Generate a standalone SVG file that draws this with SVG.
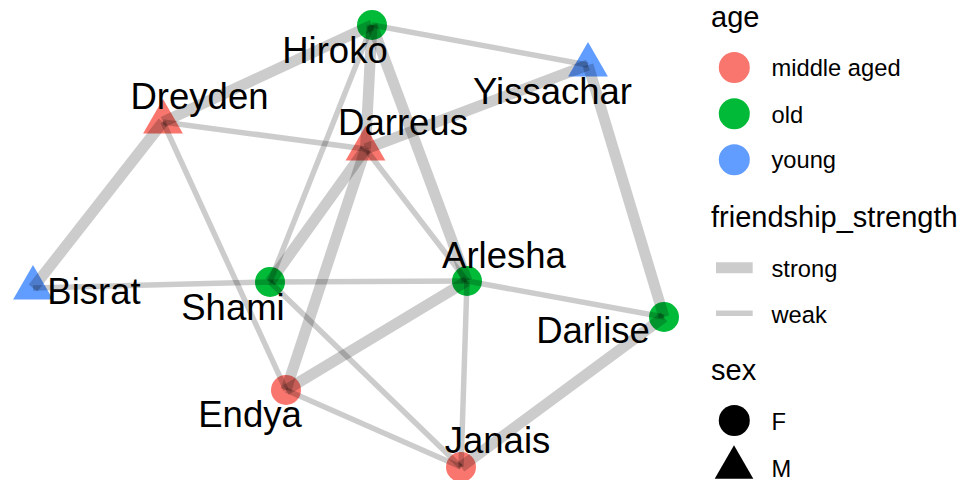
<svg xmlns="http://www.w3.org/2000/svg" xmlns:xlink="http://www.w3.org/1999/xlink" width="963" height="480" viewBox="0 0 963 480">
  <style>
    .lbl { font-family: "Liberation Sans", Arial, sans-serif; font-size: 36.5px; fill: #000; text-anchor: middle; }
    .ltitle { font-family: "Liberation Sans", Arial, sans-serif; font-size: 29px; fill: #000; }
    .ltext { font-family: "Liberation Sans", Arial, sans-serif; font-size: 23.7px; fill: #000; }
    .mid { fill: #F8766D; }
    .old { fill: #00BA38; }
    .young { fill: #619CFF; }
    .edge { stroke: #000; stroke-opacity: 0.2; fill: none; }
    .strong { stroke-width: 11; }
    .weak { stroke-width: 5.5; }
  </style>
  <defs>
    <path id="tri" d="M0,-23 L19.9,11.5 L-19.9,11.5 Z"/>
  </defs>
  <rect width="963" height="480" fill="#fff"/>

  <!-- nodes -->
  <g id="node-hiroko">
    <circle class="old" cx="372" cy="25" r="15"/>
    <text class="lbl" x="335" y="63">Hiroko</text>
  </g>
  <g id="node-dreyden">
    <use xlink:href="#tri" href="#tri" class="mid" transform="translate(163,122)"/>
    <text class="lbl" x="199.5" y="108.5">Dreyden</text>
  </g>
  <g id="node-darreus">
    <use xlink:href="#tri" href="#tri" class="mid" transform="translate(365.5,149)"/>
    <text class="lbl" x="403" y="135">Darreus</text>
  </g>
  <g id="node-yissachar">
    <use xlink:href="#tri" href="#tri" class="young" transform="translate(588,65)"/>
    <text class="lbl" x="552.5" y="103.5">Yissachar</text>
  </g>
  <g id="node-bisrat">
    <use xlink:href="#tri" href="#tri" class="young" transform="translate(33,288)"/>
    <text class="lbl" x="94" y="303.5">Bisrat</text>
  </g>
  <g id="node-shami">
    <circle class="old" cx="270" cy="282" r="15"/>
    <text class="lbl" x="233" y="320">Shami</text>
  </g>
  <g id="node-arlesha">
    <circle class="old" cx="467" cy="281" r="15"/>
    <text class="lbl" x="504" y="268">Arlesha</text>
  </g>
  <g id="node-darlise">
    <circle class="old" cx="664" cy="317" r="15"/>
    <text class="lbl" x="593" y="342.5">Darlise</text>
  </g>
  <g id="node-endya">
    <circle class="mid" cx="286" cy="390" r="15"/>
    <text class="lbl" x="250" y="427">Endya</text>
  </g>
  <g id="node-janais">
    <circle class="mid" cx="461" cy="467" r="15"/>
    <text class="lbl" x="497.5" y="453">Janais</text>
  </g>

  <!-- friendships, drawn over the points so they darken them -->
  <g id="edges" class="edge">
    <line class="strong" x1="372" y1="25" x2="163" y2="122"/>
    <line class="strong" x1="372" y1="25" x2="365.5" y2="149"/>
    <line class="strong" x1="372" y1="25" x2="467" y2="281"/>
    <line class="strong" x1="365.5" y1="149" x2="588" y2="65"/>
    <line class="strong" x1="163" y1="122" x2="33" y2="288"/>
    <line class="strong" x1="365.5" y1="149" x2="270" y2="282"/>
    <line class="strong" x1="365.5" y1="149" x2="286" y2="390"/>
    <line class="strong" x1="467" y1="281" x2="286" y2="390"/>
    <line class="strong" x1="588" y1="65" x2="664" y2="317"/>
    <line class="strong" x1="664" y1="317" x2="461" y2="467"/>
    <line class="weak" x1="372" y1="25" x2="588" y2="65"/>
    <line class="weak" x1="163" y1="122" x2="365.5" y2="149"/>
    <line class="weak" x1="163" y1="122" x2="286" y2="390"/>
    <line class="weak" x1="372" y1="25" x2="270" y2="282"/>
    <line class="weak" x1="365.5" y1="149" x2="467" y2="281"/>
    <line class="weak" x1="33" y1="288" x2="270" y2="282"/>
    <line class="weak" x1="270" y1="282" x2="467" y2="281"/>
    <line class="weak" x1="270" y1="282" x2="461" y2="467"/>
    <line class="weak" x1="286" y1="390" x2="461" y2="467"/>
    <line class="weak" x1="467" y1="281" x2="461" y2="467"/>
    <line class="weak" x1="467" y1="281" x2="664" y2="317"/>
  </g>

  <!-- legend -->
  <g id="legend-age">
    <text class="ltitle" x="711" y="26.7">age</text>
    <circle class="mid" cx="734.3" cy="67.5" r="15.5"/>
    <text class="ltext" x="771.5" y="76">middle aged</text>
    <circle class="old" cx="734.3" cy="113.8" r="15.5"/>
    <text class="ltext" x="771.5" y="122.5">old</text>
    <circle class="young" cx="734.3" cy="159.8" r="15.5"/>
    <text class="ltext" x="771.5" y="168.3">young</text>
  </g>
  <g id="legend-strength">
    <text class="ltitle" x="711" y="226.7">friendship_strength</text>
    <line class="edge strong" x1="716" y1="267.8" x2="752.7" y2="267.8"/>
    <text class="ltext" x="771.5" y="276.5">strong</text>
    <line class="edge weak" x1="716" y1="313.3" x2="752.7" y2="313.3"/>
    <text class="ltext" x="771.5" y="322.5">weak</text>
  </g>
  <g id="legend-sex">
    <text class="ltitle" x="711" y="380">sex</text>
    <circle cx="734.3" cy="420.5" r="15.5" fill="#000"/>
    <text class="ltext" x="771.5" y="430">F</text>
    <use xlink:href="#tri" href="#tri" fill="#000" transform="translate(734,467.5) scale(0.97)"/>
    <text class="ltext" x="771.5" y="476.5">M</text>
  </g>
</svg>
